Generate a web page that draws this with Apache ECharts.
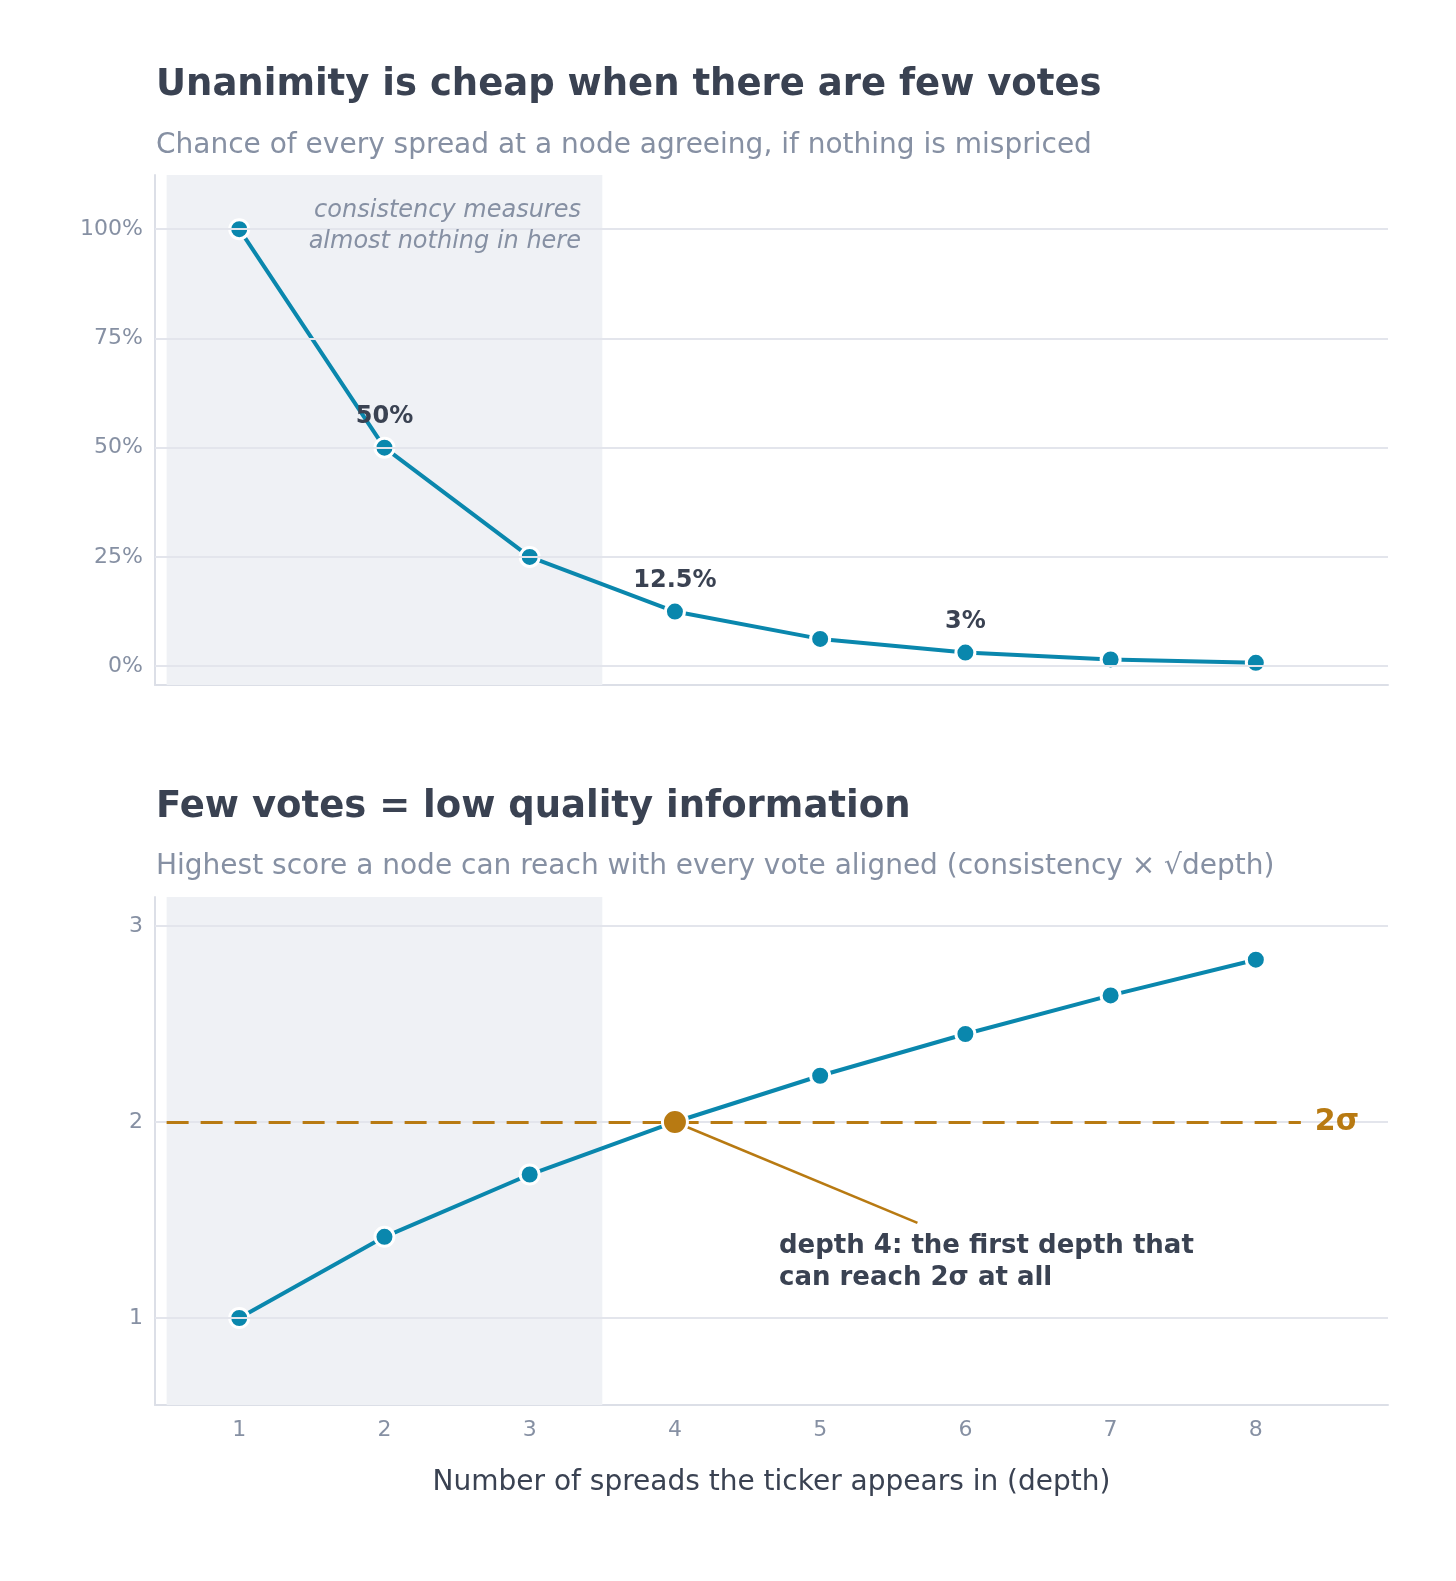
<!DOCTYPE html>
<html><head><meta charset="utf-8">
<script src="https://cdn.jsdelivr.net/npm/echarts@6/dist/echarts.min.js"></script>
<style>html,body{margin:0;background:#fff}#c{width:1456px;height:1581px}</style>
</head><body><div id="c"></div>
<script>
// data
var depths = [1, 2, 3, 4, 5, 6, 7, 8];
var unanimity = [1, 0.5, 0.25, 0.125, 0.0625, 0.03125, 0.015625, 0.0078];
var maxScore = [1, 1.414, 1.732, 2, 2.236, 2.449, 2.646, 2.828];
var topTicks = [0, 0.25, 0.5, 0.75, 1];
var bottomTicks = [1, 2, 3];
var labelled = {2: '50%', 4: '12.5%', 6: '3%'};

var BLUE = '#0a87ad', GOLD = '#b87a12', DARK = '#3a4252', GREY = '#8690a3', GRID = '#e3e5ec';
var FONT = 'DejaVu Sans';

function pts(ys) {
  return depths.map(function (d, i) { return [d, ys[i]]; });
}
function gridLines(ticks) {
  return ticks.map(function (t) { return { yAxis: t }; });
}

var chart = echarts.init(document.getElementById('c'));

var xBase = {
  type: 'value', min: 0.42, max: 8.91,
  splitLine: { show: false }, axisTick: { show: false },
  axisLine: { show: true, onZero: false, lineStyle: { color: '#dcdfe7', width: 2 } }
};

var option = {
  animation: false,
  textStyle: { fontFamily: FONT },
  title: [
    { text: 'Unanimity is cheap when there are few votes', left: 151, top: 62,
      textStyle: { fontSize: 37, fontWeight: 'bold', color: DARK, fontFamily: FONT } },
    { text: 'Chance of every spread at a node agreeing, if nothing is mispriced', left: 151, top: 127,
      textStyle: { fontSize: 28, fontWeight: 'normal', color: GREY, fontFamily: FONT } },
    { text: 'Few votes = low quality information', left: 151, top: 784,
      textStyle: { fontSize: 37, fontWeight: 'bold', color: DARK, fontFamily: FONT } },
    { text: 'Highest score a node can reach with every vote aligned (consistency \u00d7 \u221adepth)', left: 151, top: 848,
      textStyle: { fontSize: 28, fontWeight: 'normal', color: GREY, fontFamily: FONT } }
  ],
  grid: [
    { left: 155, right: 68, top: 175, height: 510 },
    { left: 155, right: 68, top: 897, height: 508 }
  ],
  xAxis: [
    Object.assign({ gridIndex: 0, axisLabel: { show: false } }, xBase),
    Object.assign({ gridIndex: 1,
      name: 'Number of spreads the ticker appears in (depth)', nameLocation: 'middle', nameGap: 64,
      nameTextStyle: { fontSize: 28, color: DARK, fontFamily: FONT },
      axisLabel: { customValues: depths, fontSize: 22, color: GREY, margin: 14 } }, xBase)
  ],
  yAxis: [
    { type: 'value', gridIndex: 0, min: -0.043, max: 1.124,
      splitLine: { show: false }, axisTick: { show: false },
      axisLine: { show: true, onZero: false, lineStyle: { color: '#dcdfe7', width: 2 } },
      axisLabel: { customValues: topTicks, fontSize: 22, color: GREY, margin: 12,
        formatter: function (v) { return Math.round(v * 100) + '%'; } } },
    { type: 'value', gridIndex: 1, min: 0.556, max: 3.148,
      splitLine: { show: false }, axisTick: { show: false },
      axisLine: { show: true, onZero: false, lineStyle: { color: '#dcdfe7', width: 2 } },
      axisLabel: { customValues: bottomTicks, fontSize: 22, color: GREY, margin: 12 } }
  ],
  series: [
    { type: 'line', xAxisIndex: 0, yAxisIndex: 0, data: pts(unanimity),
      lineStyle: { color: BLUE, width: 4 }, symbol: 'circle', symbolSize: 19,
      itemStyle: { color: BLUE, borderColor: '#fff', borderWidth: 3 },
      label: { show: true, position: 'top', distance: 8, fontSize: 24, fontWeight: 'bold', color: DARK,
        formatter: function (p) { return labelled[p.value[0]] || ''; } },
      markArea: { silent: true, itemStyle: { color: '#eff1f5' }, data: [[{ xAxis: 0.5 }, { xAxis: 3.5 }]] },
      markLine: { silent: true, symbol: 'none', label: { show: false },
        lineStyle: { color: GRID, width: 2, type: 'solid' }, data: gridLines(topTicks) },
      z: 3 },
    { type: 'line', xAxisIndex: 1, yAxisIndex: 1, data: pts(maxScore),
      lineStyle: { color: BLUE, width: 4 }, symbol: 'circle', symbolSize: 19,
      itemStyle: { color: BLUE, borderColor: '#fff', borderWidth: 3 },
      markArea: { silent: true, itemStyle: { color: '#eff1f5' }, data: [[{ xAxis: 0.5 }, { xAxis: 3.5 }]] },
      markLine: { silent: true, symbol: 'none', label: { show: false },
        lineStyle: { color: GRID, width: 2, type: 'solid' }, data: gridLines(bottomTicks) },
      z: 3 },
    { type: 'line', xAxisIndex: 1, yAxisIndex: 1, data: [], z: 2,
      markLine: { silent: true, symbol: 'none',
        data: [
          [{ coord: [0.5, 2], lineStyle: { color: GOLD, width: 3, type: [22, 12] },
             label: { show: true, position: 'end', formatter: '2\u03c3', fontSize: 30, fontWeight: 'bold', color: GOLD, distance: 14 } },
           { coord: [8.31, 2] }],
          [{ coord: [4, 2], lineStyle: { color: GOLD, width: 2.5, type: 'solid' }, label: { show: false } },
           { coord: [5.67, 1.485] }]
        ] } },
    { type: 'scatter', xAxisIndex: 1, yAxisIndex: 1, data: [[4, 2]], symbolSize: 25, z: 10,
      itemStyle: { color: GOLD, opacity: 1, borderColor: '#fff', borderWidth: 3 } }
  ],
  graphic: [
    { type: 'text', x: 581, y: 195, z: 20, style: { text: 'consistency measures\nalmost nothing in here',
      align: 'right', font: 'italic 24px "DejaVu Sans"', fill: GREY, lineHeight: 31 } },
    { type: 'text', x: 779, y: 1230, z: 20, style: { text: 'depth 4: the first depth that\ncan reach 2\u03c3 at all',
      font: 'bold 26px "DejaVu Sans"', fill: DARK, lineHeight: 32 } }
  ]
};
chart.setOption(option);
</script></body></html>
